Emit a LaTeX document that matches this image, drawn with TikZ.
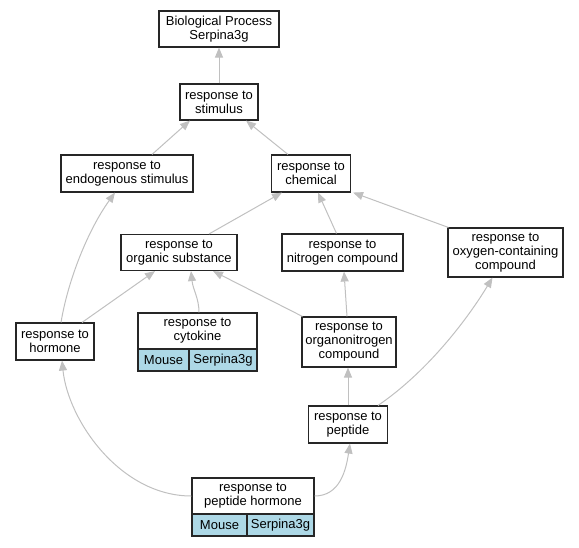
\documentclass[tikz,border=0pt]{standalone}
\usepackage{fontspec}
\setmainfont{Liberation Sans}
\usetikzlibrary{arrows.meta}
\definecolor{edgegray}{HTML}{C0C0C0}
\definecolor{cellblue}{HTML}{ADD8E6}
\tikzset{
  box/.style={draw=black!85, line width=1.1pt, fill=white, inner sep=0pt, align=center,
    font=\fontsize{13}{14}\selectfont},
  cell/.style={box, fill=cellblue},
  edge/.style={draw=edgegray, line width=1pt, -{Triangle[length=10pt,width=8pt,fill=edgegray]}}
}
\begin{document}
\begin{tikzpicture}[x=1pt,y=-1pt]
\useasboundingbox (0,0) rectangle (579,547);
% nodes
\node[box, minimum width=120, minimum height=36] (bp) at (219,29) {Biological Process\\Serpina3g};
\node[box, minimum width=78, minimum height=36] (stim) at (219,102) {response to\\stimulus};
\node[box, minimum width=132, minimum height=37] (endo) at (127,173.5) {response to\\endogenous stimulus};
\node[box, minimum width=79, minimum height=37] (chem) at (311,173.5) {response to\\chemical};
\node[box, minimum width=116, minimum height=36] (org) at (179,252.5) {response to\\organic substance};
\node[box, minimum width=121, minimum height=37] (nit) at (342.5,252.5) {response to\\nitrogen compound};
\node[box, minimum width=115, minimum height=49] (oxy) at (505.5,252.5) {response to\\oxygen-containing\\compound};
\node[box, minimum width=78, minimum height=37] (horm) at (55,341.5) {response to\\hormone};
\node[box, minimum width=119, minimum height=36] (cyt) at (197.5,331) {response to\\cytokine};
\node[cell, minimum width=51, minimum height=22] (cytm) at (163.5,360) {Mouse};
\node[cell, minimum width=68, minimum height=22] (cyts) at (223,360) {Serpina3g};
\node[box, minimum width=94, minimum height=50] (orgn) at (349,342) {response to\\organonitrogen\\compound};
\node[box, minimum width=79, minimum height=37] (pep) at (348,424.5) {response to\\peptide};
\node[box, minimum width=122, minimum height=36] (ph) at (253,496) {response to\\peptide hormone};
\node[cell, minimum width=55, minimum height=22] (phm) at (219.5,525) {Mouse};
\node[cell, minimum width=67, minimum height=22] (phs) at (280.5,525) {Serpina3g};
% edges
\draw[edge] (stim.north) -- (bp.south);
\draw[edge] ([xshift=25]endo.north) -- ([xshift=-29]stim.south);
\draw[edge] ([xshift=-23]chem.north) -- ([xshift=27]stim.south);
\draw[edge] ([xshift=30]org.north) -- ([xshift=-29]chem.south);
\draw[edge] ([xshift=-6]nit.north) -- ([xshift=7]chem.south);
\draw[edge] ([xshift=1]oxy.north west) -- ([xshift=2]chem.south east);
\draw[edge] ([xshift=6]horm.north) .. controls (68,280) and (88,230) .. ([xshift=-12]endo.south);
\draw[edge] ([xshift=27]horm.north) -- ([xshift=-24]org.south);
\draw[edge] ([xshift=1.5]cyt.north) .. controls (199,298) and (193,290) .. ([xshift=12]org.south);
\draw[edge] ([xshift=1]orgn.north west) -- ([xshift=34]org.south);
\draw[edge] ([xshift=-2]orgn.north) -- ([xshift=1.5]nit.south);
\draw[edge] (pep.north) -- (pep.north |- orgn.south);
\draw[edge] ([xshift=30]pep.north) .. controls (430,370) and (470,315) .. ([xshift=-13]oxy.south);
\draw[edge] (ph.west) .. controls (120,496) and (68,420) .. ([xshift=7]horm.south);
\draw[edge] (ph.east) .. controls (340,496) and (346,470) .. ([xshift=2]pep.south);
\end{tikzpicture}
\end{document}
